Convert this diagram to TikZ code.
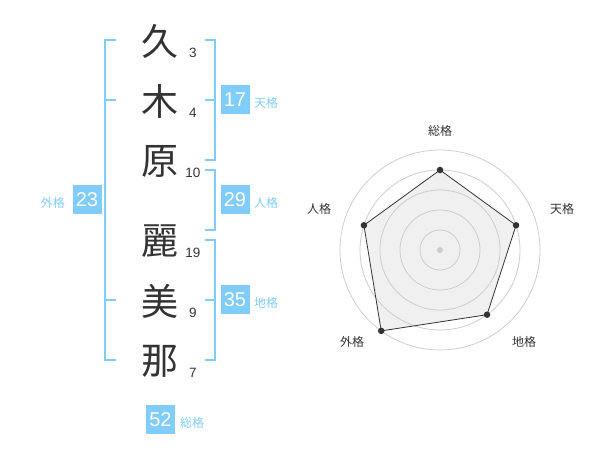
\documentclass[tikz,border=0pt]{standalone}
\usepackage{fontspec}
\setmainfont{Liberation Sans}
\newfontfamily\jpfont{Noto Sans CJK JP}
\definecolor{kakucolor}{RGB}{128,204,250}
\definecolor{inkcolor}{RGB}{51,51,51}
\definecolor{ringcolor}{RGB}{204,204,204}
\definecolor{areacolor}{RGB}{240,240,240}

\begin{document}
\begin{tikzpicture}[x=1pt,y=-1pt,
  kanji/.style={font=\jpfont\fontsize{37}{37}\selectfont,text=inkcolor,inner sep=0pt},
  kakusu/.style={font=\fontsize{13.5}{13.5}\selectfont,text=inkcolor,inner sep=0pt},
  kakubox/.style={fill=kakucolor,text=white,minimum size=29pt,inner sep=0pt,font=\fontsize{20}{20}\selectfont},
  kakuname/.style={font=\jpfont\fontsize{12}{12}\selectfont,text=kakucolor,inner sep=0pt},
  bracket/.style={draw=kakucolor,line width=2pt},
  ring/.style={draw=ringcolor,line width=0.8pt},
  axisname/.style={font=\jpfont\fontsize{12}{12}\selectfont,text=inkcolor,inner sep=0pt},
  score/.style={circle,fill=inkcolor,inner sep=0pt,minimum size=6.5pt}]
\useasboundingbox (0,0) rectangle (600,470);

% name, one character per row
\node[kanji] (kyu) at (160,41.5) {久};
\node[kanji] (moku) at (160,101.5) {木};
\node[kanji] (gen) at (160,161.5) {原};
\node[kanji] (rei) at (160,241.5) {麗};
\node[kanji] (bi) at (160,301.5) {美};
\node[kanji] (na) at (160,361.5) {那};

% stroke counts
\node[kakusu] (kyu-n) at (193,52.5) {3};
\node[kakusu] (moku-n) at (193,112.5) {4};
\node[kakusu] (gen-n) at (193,172.5) {10};
\node[kakusu] (rei-n) at (193,252.5) {19};
\node[kakusu] (bi-n) at (193,312.5) {9};
\node[kakusu] (na-n) at (193,372.5) {7};

% brackets
\draw[bracket] (116,40) -- (105,40) -- (105,360) -- (116,360);
\draw[bracket] (105,100) -- (116,100);
\draw[bracket] (105,300) -- (116,300);
\draw[bracket] (205,40) -- (215,40) -- (215,160) -- (205,160);
\draw[bracket] (205,100) -- (215,100);
\draw[bracket] (205,170) -- (215,170) -- (215,230) -- (205,230);
\draw[bracket] (205,240) -- (215,240) -- (215,360) -- (205,360);
\draw[bracket] (205,300) -- (215,300);

% kaku values
\node[kakubox] (ten) at (235,100) {17};
\node[kakuname,anchor=west] (ten-l) at (254,103) {天格};
\node[kakubox] (jin) at (235,200) {29};
\node[kakuname,anchor=west] (jin-l) at (254,203) {人格};
\node[kakubox] (chi) at (235,300) {35};
\node[kakuname,anchor=west] (chi-l) at (254,303) {地格};
\node[kakubox] (gai) at (87,200) {23};
\node[kakuname,anchor=east] (gai-l) at (65,203) {外格};
\node[kakubox] (sou) at (160.5,419.5) {52};
\node[kakuname,anchor=west] (sou-l) at (180,422.5) {総格};

% radar
\begin{scope}[shift={(440,250)}]
\coordinate (c) at (0,0);
\coordinate (p-sou) at (-90:80);
\coordinate (p-ten) at (-18:80);
\coordinate (p-chi) at (54:80);
\coordinate (p-gai) at (126:100);
\coordinate (p-jin) at (198:80);
\fill[areacolor] (p-sou) -- (p-ten) -- (p-chi) -- (p-gai) -- (p-jin) -- cycle;
\draw[ring] (c) circle (20);
\draw[ring] (c) circle (40);
\draw[ring] (c) circle (60);
\draw[ring] (c) circle (80);
\draw[ring] (c) circle (100);
\fill[ringcolor] (c) circle (3);
\draw[inkcolor,line width=0.8pt] (p-sou) -- (p-ten) -- (p-chi) -- (p-gai) -- (p-jin) -- cycle;
\node[score] (d-sou) at (p-sou) {};
\node[score] (d-ten) at (p-ten) {};
\node[score] (d-chi) at (p-chi) {};
\node[score] (d-gai) at (p-gai) {};
\node[score] (d-jin) at (p-jin) {};
\end{scope}
\node[axisname] (a-sou) at (440,131) {総格};
\node[axisname] (a-ten) at (562,209) {天格};
\node[axisname] (a-chi) at (524,342) {地格};
\node[axisname] (a-gai) at (352,342) {外格};
\node[axisname] (a-jin) at (319,209) {人格};
\end{tikzpicture}
\end{document}
